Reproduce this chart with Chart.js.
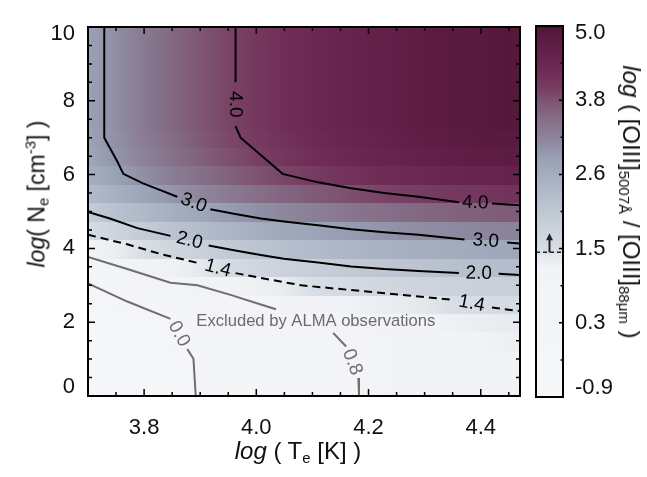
<!DOCTYPE html>
<html>
<head>
<meta charset="utf-8">
<script src="https://cdn.jsdelivr.net/npm/chart.js@4.4.1/dist/chart.umd.min.js"></script>
<style>
  html, body { margin: 0; padding: 0; background: #fff; }
  #wrap { position: relative; width: 647px; height: 477px; font-family: 'Liberation Sans', Arial, sans-serif; color: #111; }
  #main { position: absolute; left: 0; top: 0; }
  #cbar { position: absolute; left: 530px; top: 0; }
  .title { position: absolute; white-space: nowrap; font-size: 24px; line-height: 1; }
  .title sub { font-size: 15px; vertical-align: -4px; line-height: 0; }
  .title sup { font-size: 15px; vertical-align: 9px; line-height: 0; }
  #xt { left: 298px; top: 451px; transform: translate(-50%, -50%); }
  #yt { left: 37px; top: 194px; font-size: 23px; transform: translate(-50%, -50%) rotate(-90deg); }
  #ct { left: 631px; top: 202px; transform: translate(-50%, -50%) rotate(90deg); }
</style>
</head>
<body>
<div id="wrap">
  <canvas id="main" width="530" height="477"></canvas>
  <canvas id="cbar" width="117" height="477"></canvas>
  <div class="title" id="xt"><i>log</i> ( T<sub>e</sub> [K] )</div>
  <div class="title" id="yt"><i>log</i>( N<sub>e</sub> [cm<sup>-3</sup>] )</div>
  <div class="title" id="ct"><i>log</i> ( [OIII]<sub>5007Å</sub> / [OIII]<sub>88μm</sub> )</div>
</div>
<script>
// grid of log([OIII]5007/[OIII]88), one row per log Ne
const teGrid = [3.70, 3.75, 3.80, 3.85, 3.90, 3.95, 4.00, 4.05, 4.10, 4.15, 4.20, 4.25, 4.30, 4.35, 4.40, 4.45];
const neGrid = [0, 0.5, 1, 1.5, 2, 2.5, 3, 3.5, 4, 4.5, 5, 5.5, 6, 6.5, 7, 7.5, 8, 8.5, 9, 9.5, 10];

const lowNe = [-0.90, -0.62, -0.38, -0.16, 0.03, 0.20, 0.36, 0.49, 0.61, 0.72, 0.82, 0.91, 0.98, 1.05, 1.11, 1.17];
const ne15 = [-0.81, -0.53, -0.29, -0.08, 0.11, 0.28, 0.43, 0.56, 0.68, 0.79, 0.88, 0.97, 1.04, 1.11, 1.16, 1.22];
const ne20 = [-0.65, -0.37, -0.15, 0.07, 0.25, 0.41, 0.56, 0.69, 0.80, 0.90, 1.00, 1.08, 1.14, 1.21, 1.26, 1.32];
const ne25 = [-0.35, -0.09, 0.13, 0.34, 0.51, 0.67, 0.82, 0.94, 1.05, 1.15, 1.23, 1.31, 1.37, 1.43, 1.48, 1.52];
const ne30 = [0.05, 0.31, 0.53, 0.73, 0.90, 1.06, 1.21, 1.32, 1.42, 1.52, 1.60, 1.67, 1.73, 1.78, 1.82, 1.87];
const ne35 = [0.51, 0.78, 0.99, 1.19, 1.36, 1.51, 1.66, 1.77, 1.87, 1.96, 2.05, 2.12, 2.17, 2.22, 2.26, 2.30];
const ne40 = [1.00, 1.26, 1.47, 1.67, 1.84, 1.99, 2.14, 2.25, 2.35, 2.44, 2.52, 2.59, 2.64, 2.69, 2.73, 2.77];
const ne45 = [1.48, 1.74, 1.96, 2.16, 2.33, 2.48, 2.63, 2.74, 2.84, 2.93, 3.01, 3.08, 3.13, 3.18, 3.22, 3.26];
const ne50 = [1.94, 2.21, 2.42, 2.62, 2.79, 2.95, 3.10, 3.21, 3.31, 3.40, 3.48, 3.55, 3.61, 3.66, 3.70, 3.74];
const ne55 = [2.34, 2.61, 2.83, 3.03, 3.21, 3.36, 3.51, 3.63, 3.74, 3.83, 3.92, 3.99, 4.05, 4.10, 4.14, 4.18];
const ne60 = [2.62, 2.89, 3.12, 3.33, 3.51, 3.67, 3.82, 3.95, 4.06, 4.16, 4.25, 4.32, 4.39, 4.45, 4.49, 4.54];
const ne65 = [2.77, 3.04, 3.28, 3.49, 3.68, 3.85, 4.00, 4.13, 4.25, 4.35, 4.45, 4.52, 4.59, 4.66, 4.71, 4.76];
const ne70 = [2.83, 3.10, 3.35, 3.56, 3.75, 3.92, 4.07, 4.21, 4.33, 4.44, 4.53, 4.61, 4.69, 4.76, 4.81, 4.86];
const highNe = [2.86, 3.13, 3.38, 3.59, 3.79, 3.96, 4.11, 4.25, 4.37, 4.48, 4.58, 4.66, 4.74, 4.81, 4.87, 4.92];

const ratioGrid = [lowNe, lowNe, lowNe, ne15, ne20, ne25, ne30, ne35, ne40, ne45, ne50, ne55, ne60,
  ne65, ne70, highNe, highNe, highNe, highNe, highNe, highNe];

// contour lines [log Te, log Ne], null = gap where the level label sits
const contour40 = [[3.963, 10.0], [3.963, 8.50], null, [3.963, 7.31], [3.972, 7.00], [4.047, 6.02],
  [4.110, 5.79], [4.169, 5.63], [4.228, 5.50], [4.289, 5.40], [4.361, 5.25], null, [4.420, 5.22], [4.470, 5.17]];
const contour30 = [[3.729, 10.0], [3.729, 7.00], [3.752, 6.36], [3.763, 6.02], [3.798, 5.76], [3.829, 5.58],
  [3.859, 5.40], null, [3.918, 5.06], [3.960, 4.94], [4.008, 4.81], [4.049, 4.73], [4.110, 4.63], [4.169, 4.52],
  [4.228, 4.44], [4.289, 4.37], [4.371, 4.24], null, [4.447, 4.16], [4.470, 4.13]];
const contour20 = [[3.700, 4.99], [3.739, 4.81], [3.788, 4.55], [3.847, 4.34], null, [3.915, 4.08],
  [3.960, 3.95], [4.008, 3.82], [4.049, 3.72], [4.110, 3.62], [4.169, 3.51], [4.228, 3.44], [4.289, 3.39],
  [4.361, 3.33], null, [4.432, 3.31], [4.470, 3.28]];
const contour14 = [[3.700, 4.37], [3.770, 4.11], [3.829, 3.85], [3.900, 3.59], null, [3.963, 3.33],
  [4.008, 3.20], [4.080, 3.00], [4.169, 2.87], [4.259, 2.74], [4.348, 2.61], null, [4.420, 2.40], [4.470, 2.30]];
const contour08a = [[3.700, 3.77], [3.770, 3.44], [3.847, 3.07], [3.895, 3.00], [3.954, 2.74], [4.008, 2.48],
  [4.035, 2.35]];
const contour08b = [[4.137, 1.71], [4.160, 1.34], null, [4.182, 0.49], [4.183, 0.00]];
const contour00 = [[3.700, 3.05], [3.770, 2.56], [3.847, 2.09], null, [3.877, 1.27], [3.888, 1.01], [3.892, 0.00]];

const xTickValues = [3.8, 4.0, 4.2, 4.4];
const yTickValues = [0, 2, 4, 6, 8, 10];
const cbarTickValues = [-0.9, 0.28, 1.46, 2.64, 3.82, 5.0];
const cbarTickLabels = ['-0.9', '0.3', '1.5', '2.6', '3.8', '5.0'];
const cutLevel = 1.4;
const excludedNote = 'Excluded by ALMA observations';

// colour table
const cmapValues = [-0.9, 1.15, 1.39, 1.40, 2.0, 2.6, 2.9, 3.2, 3.5, 3.8, 4.0, 4.3, 4.6, 4.9, 5.0];
const cmapColors = ['#f6f7f9', '#f1f3f6', '#e3e7ec', '#d9dfe6', '#c2cad5', '#a6b0c1', '#99a1b5', '#8d879e',
  '#857189', '#7e5674', '#783f63', '#6e2b55', '#632049', '#57193d', '#4f1535'];

const hexRgb = h => [1, 3, 5].map(i => parseInt(h.substr(i, 2), 16));
function colorFor(v) {
  if (v <= cmapValues[0]) return cmapColors[0];
  for (let k = 1; k < cmapValues.length; k++) {
    if (v <= cmapValues[k]) {
      const t = (v - cmapValues[k - 1]) / (cmapValues[k] - cmapValues[k - 1]);
      const a = hexRgb(cmapColors[k - 1]), b = hexRgb(cmapColors[k]);
      return 'rgb(' + a.map((c, i) => Math.round(c + (b[i] - c) * t)).join(',') + ')';
    }
  }
  return cmapColors[cmapColors.length - 1];
}

const fontFamily = "'Liberation Sans', Arial, sans-serif";
// end labels sit inside the frame, as in the original: pad them with an empty line
const edgeFont = n => c => ({ family: fontFamily, size: 22,
  lineHeight: c.index === 0 ? '18px' : c.index === n - 1 ? '14px' : 1.2 });
const edgeLabel = (text, i, n) => i === 0 ? [text, ''] : i === n - 1 ? ['', text] : text;

const toXY = arr => arr.map(p => p ? { x: p[0], y: p[1] } : { x: null, y: null });

function contourSet(arr, label, color, dash) {
  return {
    label, data: toXY(arr), showLine: true, borderColor: color, borderWidth: 2,
    borderDash: dash || [], pointRadius: 0, tension: 0, fill: false
  };
}

const heatmapPlugin = {
  id: 'heatmap',
  beforeDatasetsDraw(chart) {
    const { ctx, chartArea: a, scales: { x, y } } = chart;
    ctx.save();
    ctx.beginPath();
    ctx.rect(a.left, a.top, a.width, a.height);
    ctx.clip();
    const last = teGrid.length - 1;
    neGrid.forEach((ne, i) => {
      const yTop = y.getPixelForValue(ne + 0.25);
      const yBot = y.getPixelForValue(ne - 0.25);
      const row = ratioGrid[i];
      teGrid.forEach((te, j) => {
        const x0 = x.getPixelForValue(te);
        const x1 = j < last ? x.getPixelForValue(teGrid[j + 1]) : a.right;
        const g = ctx.createLinearGradient(x0, 0, x1, 0);
        g.addColorStop(0, colorFor(row[j]));
        g.addColorStop(1, colorFor(j < last ? row[j + 1] : row[j]));
        ctx.fillStyle = g;
        ctx.fillRect(Math.floor(x0), Math.floor(yTop), Math.ceil(x1 - x0) + 1, Math.ceil(yBot - yTop) + 1);
      });
    });
    ctx.restore();
  }
};

const contourLabelPlugin = {
  id: 'contourLabels',
  afterDatasetsDraw(chart) {
    const { ctx, scales: { x, y } } = chart;
    ctx.save();
    ctx.font = '19px ' + fontFamily;
    ctx.textAlign = 'center';
    ctx.textBaseline = 'middle';
    chart.data.datasets.forEach((ds, di) => {
      const pts = chart.getDatasetMeta(di).data;
      ds.data.forEach((d, k) => {
        if (d.y !== null || k === 0 || k === ds.data.length - 1) return;
        const p = pts[k - 1], q = pts[k + 1];
        let ang = Math.atan2(q.y - p.y, q.x - p.x);
        if (ang > Math.PI / 2 + 0.01) ang -= Math.PI;
        if (ang < -Math.PI / 2) ang += Math.PI;
        ctx.save();
        ctx.translate((p.x + q.x) / 2, (p.y + q.y) / 2);
        ctx.rotate(ang);
        ctx.fillStyle = ds.borderColor;
        ctx.fillText(ds.label, 0, 0);
        ctx.restore();
      });
    });
    ctx.font = '16.6px ' + fontFamily;
    ctx.fillStyle = '#6b6b6b';
    ctx.fillText(excludedNote, x.getPixelForValue(4.106), y.getPixelForValue(2.02));
    ctx.restore();
  }
};

const framePlugin = {
  id: 'frame',
  afterDraw(chart) {
    const { ctx, chartArea: a, scales: { x, y } } = chart;
    ctx.save();
    ctx.strokeStyle = '#000';
    ctx.lineWidth = 1.5;
    ctx.beginPath();
    for (let k = 1; 3.70 + k * 0.05 < 4.469; k++) {
      const v = 3.70 + k * 0.05;
      const px = x.getPixelForValue(v);
      const len = xTickValues.some(t => Math.abs(t - v) < 1e-6) ? 7 : 4;
      ctx.moveTo(px, a.bottom); ctx.lineTo(px, a.bottom - len);
      ctx.moveTo(px, a.top); ctx.lineTo(px, a.top + len);
    }
    for (let k = 1; k < 20; k++) {
      const py = y.getPixelForValue(k * 0.5);
      const len = k % 4 === 0 ? 7 : 4;
      ctx.moveTo(a.left, py); ctx.lineTo(a.left + len, py);
      ctx.moveTo(a.right, py); ctx.lineTo(a.right - len, py);
    }
    ctx.stroke();
    ctx.lineWidth = 2;
    ctx.strokeRect(a.left, a.top, a.width, a.height);
    ctx.restore();
  }
};

new Chart(document.getElementById('main'), {
  type: 'scatter',
  data: {
    datasets: [
      contourSet(contour40, '4.0', '#000'),
      contourSet(contour30, '3.0', '#000'),
      contourSet(contour20, '2.0', '#000'),
      contourSet(contour14, '1.4', '#000', [8, 5]),
      contourSet(contour08a, '0.8', '#6e6e6e'),
      contourSet(contour08b, '0.8', '#6e6e6e'),
      contourSet(contour00, '0.0', '#6e6e6e')
    ]
  },
  options: {
    responsive: false,
    animation: false,
    layout: { padding: { left: 0, top: 9, right: 10, bottom: 0 } },
    plugins: { legend: { display: false }, tooltip: { enabled: false } },
    scales: {
      x: {
        type: 'linear', min: 3.70, max: 4.47,
        grid: { display: false, drawTicks: false }, border: { display: false },
        afterBuildTicks: s => { s.ticks = xTickValues.map(v => ({ value: v })); },
        afterFit: s => { s.height = 81; },
        ticks: { padding: 19, font: { family: fontFamily, size: 22 }, color: '#111', maxRotation: 0,
          autoSkip: false, callback: v => v.toFixed(1) }
      },
      y: {
        type: 'linear', min: 0, max: 10,
        grid: { display: false, drawTicks: false }, border: { display: false },
        afterBuildTicks: s => { s.ticks = yTickValues.map(v => ({ value: v })); },
        afterFit: s => { s.width = 88; },
        ticks: { padding: 13, font: edgeFont(yTickValues.length), color: '#111', autoSkip: false,
          callback: (v, i) => edgeLabel(String(v), i, yTickValues.length) }
      }
    }
  },
  plugins: [heatmapPlugin, contourLabelPlugin, framePlugin]
});

const colorbarPlugin = {
  id: 'colorbar',
  beforeDatasetsDraw(chart) {
    const { ctx, chartArea: a, scales: { y } } = chart;
    const step = 0.01;
    for (let k = 0; -0.9 + k * step < 5.0; k++) {
      const v = -0.9 + k * step;
      const y0 = y.getPixelForValue(v + step), y1 = y.getPixelForValue(v);
      ctx.fillStyle = colorFor(v + step / 2);
      ctx.fillRect(a.left, Math.floor(y0), a.width, Math.ceil(y1 - y0) + 1);
    }
  },
  afterDraw(chart) {
    const { ctx, chartArea: a, scales: { y } } = chart;
    ctx.save();
    const yc = y.getPixelForValue(cutLevel);
    ctx.strokeStyle = '#222';
    ctx.lineWidth = 1.5;
    ctx.setLineDash([4, 3]);
    ctx.beginPath();
    ctx.moveTo(a.left, yc); ctx.lineTo(a.right, yc);
    ctx.stroke();
    ctx.setLineDash([]);
    const xm = (a.left + a.right) / 2;
    ctx.lineWidth = 2;
    ctx.beginPath();
    ctx.moveTo(xm, yc); ctx.lineTo(xm, yc - 13);
    ctx.stroke();
    ctx.fillStyle = '#222';
    ctx.beginPath();
    ctx.moveTo(xm, yc - 19); ctx.lineTo(xm - 3.5, yc - 12); ctx.lineTo(xm + 3.5, yc - 12);
    ctx.closePath();
    ctx.fill();
    ctx.strokeStyle = '#000';
    ctx.lineWidth = 1.5;
    ctx.beginPath();
    cbarTickValues.forEach((v, i) => {
      const py = y.getPixelForValue(v);
      ctx.moveTo(a.right, py); ctx.lineTo(a.right - 4, py);
      if (i > 0) {
        const pm = y.getPixelForValue((v + cbarTickValues[i - 1]) / 2);
        ctx.moveTo(a.right, pm); ctx.lineTo(a.right - 2.5, pm);
      }
    });
    ctx.stroke();
    ctx.lineWidth = 2;
    ctx.strokeRect(a.left, a.top, a.width, a.height);
    ctx.restore();
  }
};

new Chart(document.getElementById('cbar'), {
  type: 'scatter',
  data: { datasets: [{ data: [] }] },
  options: {
    responsive: false,
    animation: false,
    layout: { padding: { left: 6, top: 8, right: 0, bottom: 80 } },
    plugins: { legend: { display: false }, tooltip: { enabled: false } },
    scales: {
      x: { type: 'linear', min: 0, max: 1, display: false },
      y: {
        type: 'linear', position: 'right', min: -0.9, max: 5.0,
        grid: { display: false, drawTicks: false }, border: { display: false },
        afterBuildTicks: s => { s.ticks = cbarTickValues.map(v => ({ value: v })); },
        afterFit: s => { s.width = 84; },
        ticks: { padding: 12, font: edgeFont(cbarTickValues.length), color: '#111', autoSkip: false,
          callback: (v, i) => edgeLabel(cbarTickLabels[i], i, cbarTickValues.length) }
      }
    }
  },
  plugins: [colorbarPlugin]
});
</script>
</body>
</html>
